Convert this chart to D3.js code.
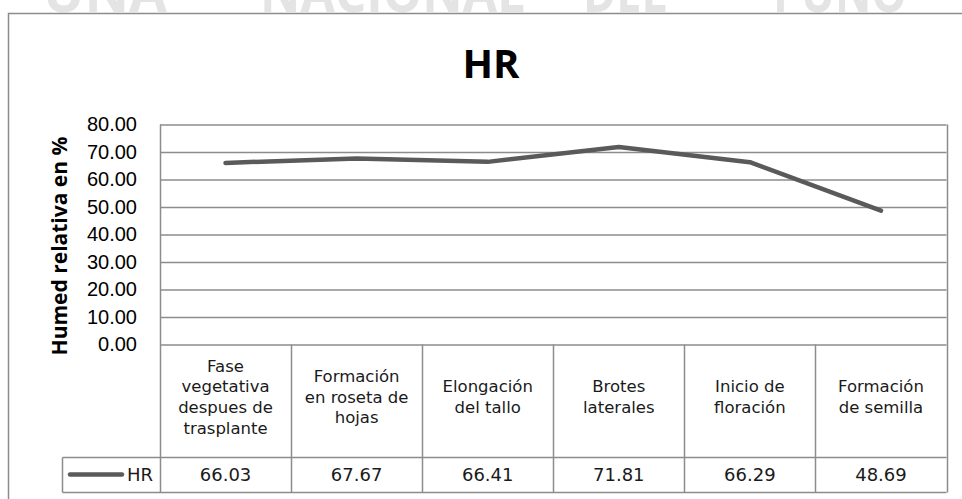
<!DOCTYPE html>
<html>
<head>
<meta charset="utf-8">
<script src="https://cdn.jsdelivr.net/npm/d3@7"></script>
<style>
	body { margin: 0; background: #fff; }
	svg { display: block; font-family: "Open Sans", "Noto Sans", sans-serif; }
	.tbl { font-family: "DejaVu Sans", sans-serif; }
</style>
</head>
<body>
<svg width="962" height="499"></svg>
<script>
// data
var stages = [
	"Fase vegetativa despues de trasplante",
	"Formación en roseta de hojas",
	"Elongación del tallo",
	"Brotes laterales",
	"Inicio de floración",
	"Formación de semilla"
]
// header lines as they wrap in the table
var stageLines = [
	["Fase", "vegetativa", "despues de", "trasplante"],
	["Formación", "en roseta de", "hojas"],
	["Elongación", "del tallo"],
	["Brotes", "laterales"],
	["Inicio de", "floración"],
	["Formación", "de semilla"]
]
var hrValues = [66.03, 67.67, 66.41, 71.81, 66.29, 48.69]
var yTicks = [0, 10, 20, 30, 40, 50, 60, 70, 80]
var seriesName = "HR"
var chartTitle = "HR"
var yTitle = "Humed relativa en %"
// faint watermark pieces cut off at the top of the page
var watermark = ["UNA", "NACIONAL", "DEL", "PUNO"]

function drawChart(){
	var svg = d3.select("svg")
	var gridColor = "#8c8c8c"
	var lineColor = "#5a5a5a"

	var left = 160, right = 946.5, top = 124.5, bottom = 344.5
	var headBottom = 457.5, rowBottom = 492.5, legendLeft = 62.5

	var x = d3.scaleBand().domain(stages).range([left, right])
	var y = d3.scaleLinear().domain([0, 80]).range([bottom, top])

	// watermark, only its lower edge shows
	var wmX = [[43, 124], [260, 265], [583, 84], [773, 134]]
	svg.append("g")
		.selectAll("text")
		.data(watermark)
		.enter()
		.append("text")
		.attr("x", (d,i)=>wmX[i][0])
		.attr("y", 12)
		.attr("textLength", (d,i)=>wmX[i][1])
		.attr("lengthAdjust", "spacingAndGlyphs")
		.style("font-size", "56px")
		.style("font-weight", "bold")
		.style("fill", "#e4e4e4")
		.text(d=>d)

	// outer frame of the chart object
	svg.append("path")
		.attr("d", "M8.5,499 V13.5 H962")
		.style("fill", "none")
		.style("stroke", gridColor)
		.style("stroke-width", "1.5px")

	// title
	svg.append("text")
		.attr("x", 491)
		.attr("y", 78)
		.style("text-anchor", "middle")
		.style("font-size", "40px")
		.style("font-weight", "bold")
		.text(chartTitle)

	// gridlines and tick labels
	var yAxis = d3.axisLeft(y)
		.tickValues(yTicks)
		.tickSize(-(right - left))
		.tickPadding(23)
		.tickFormat(d3.format(".2f"))
	var axisG = svg.append("g")
		.attr("transform", "translate(" + left + ",0)")
		.call(yAxis)
	axisG.select(".domain").remove()
	axisG.selectAll("line")
		.style("stroke", gridColor)
		.style("stroke-width", "1.5px")
	axisG.selectAll("text")
		.style("font-size", "20px")
		.style("fill", "#000")
		.attr("font-family", null)

	// axis title
	svg.append("text")
		.attr("transform", "translate(67,246) rotate(-90)")
		.style("text-anchor", "middle")
		.style("font-size", "21px")
		.style("font-weight", "bold")
		.text(yTitle)

	// data table under the plot
	var tableG = svg.append("g").attr("id", "tableG").attr("class", "tbl")
	var bounds = stages.map(d=>x(d)).concat([right])
	tableG.selectAll("line.vert")
		.data(bounds)
		.enter()
		.append("line")
		.attr("class", "vert")
		.attr("x1", d=>Math.round(d) + 0.5)
		.attr("x2", d=>Math.round(d) + 0.5)
		.attr("y1", (d,i)=>(i == 0 || i == bounds.length - 1) ? top : bottom)
		.attr("y2", rowBottom)
	tableG.append("line")
		.attr("x1", legendLeft).attr("x2", legendLeft)
		.attr("y1", headBottom).attr("y2", rowBottom)
	tableG.append("line")
		.attr("x1", legendLeft).attr("x2", right)
		.attr("y1", headBottom).attr("y2", headBottom)
	tableG.append("line")
		.attr("x1", legendLeft).attr("x2", right)
		.attr("y1", rowBottom).attr("y2", rowBottom)
	tableG.selectAll("line")
		.style("stroke", gridColor)
		.style("stroke-width", "1.5px")

	// header text, several lines per stage
	var headG = tableG.selectAll("g.head")
		.data(stages)
		.enter()
		.append("g")
		.attr("class", "head")
		.attr("transform", d=>"translate(" + (x(d) + x.bandwidth() / 2) + ",397)")
	headG.selectAll("text")
		.data((d,i)=>stageLines[i].map((t,j,arr)=>({t: t, off: (j - (arr.length - 1) / 2) * 20.7})))
		.enter()
		.append("text")
		.attr("y", d=>d.off)
		.attr("dy", "0.35em")
		.style("text-anchor", "middle")
		.style("font-size", "16.5px")
		.style("fill", "#1a1a1a")
		.text(d=>d.t)

	// value row
	tableG.selectAll("text.val")
		.data(hrValues)
		.enter()
		.append("text")
		.attr("class", "val")
		.attr("x", (d,i)=>x(stages[i]) + x.bandwidth() / 2)
		.attr("y", 475)
		.attr("dy", "0.35em")
		.style("text-anchor", "middle")
		.style("font-size", "18px")
		.style("fill", "#1a1a1a")
		.text(d=>d3.format(".2f")(d))

	// legend key in the first cell
	tableG.append("line")
		.attr("x1", 70).attr("x2", 122)
		.attr("y1", 474.5).attr("y2", 474.5)
		.style("stroke", lineColor)
		.style("stroke-width", "4.5px")
		.style("stroke-linecap", "round")
	tableG.append("text")
		.attr("x", 153)
		.attr("y", 475)
		.attr("dy", "0.35em")
		.style("text-anchor", "end")
		.style("font-size", "18px")
		.style("fill", "#1a1a1a")
		.text(seriesName)

	// the series line
	var line = d3.line()
		.x((d,i)=>x(stages[i]) + x.bandwidth() / 2)
		.y(d=>y(d))
	svg.append("path")
		.datum(hrValues)
		.attr("d", line)
		.style("fill", "none")
		.style("stroke", lineColor)
		.style("stroke-width", "4.5px")
		.style("stroke-linecap", "round")
		.style("stroke-linejoin", "round")
}

drawChart()
</script>
</body>
</html>
